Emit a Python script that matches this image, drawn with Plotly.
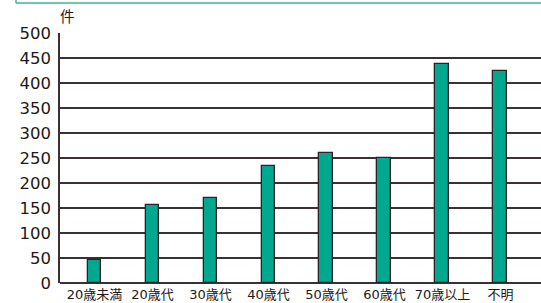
import plotly.graph_objects as go

categories = ["20歳未満", "20歳代", "30歳代", "40歳代", "50歳代", "60歳代", "70歳以上", "不明"]
values = [46, 157, 170, 234, 260, 250, 438, 424]
y_ticks = [0, 50, 100, 150, 200, 250, 300, 350, 400, 450, 500]

W, H = 541, 303
ml, mt, mb, mr = 60, 33, 20, 0
pw = W - ml - mr
ph = H - mt - mb

ink = "#231815"
grid = "#3a3232"
teal = "#00a88f"

fig = go.Figure()
fig.add_trace(go.Bar(
    x=list(range(len(categories))), y=values, width=0.24,
    marker=dict(color=teal, line=dict(color="#2b2424", width=1.3)),
    hoverinfo="skip",
))

def px_x(p):
    return (p - ml) / pw

def px_y(p):
    return (H - mb - p) / ph

fig.update_layout(
    width=W, height=H,
    margin=dict(l=ml, r=mr, t=mt, b=mb),
    paper_bgcolor="white", plot_bgcolor="white",
    showlegend=False, bargap=0,
    font=dict(family="DejaVu Sans, Noto Sans CJK JP", color=ink),
    xaxis=dict(
        range=[-0.595, 7.7],
        tickmode="array", tickvals=list(range(len(categories))), ticktext=categories,
        showgrid=False, zeroline=False, showline=False, ticks="",
        ticklabelstandoff=2,
        tickfont=dict(size=13, family="DejaVu Sans, Noto Sans CJK JP", color=ink),
        fixedrange=True,
    ),
    yaxis=dict(
        range=[0, 500],
        tickmode="array", tickvals=y_ticks,
        showgrid=True, gridcolor=grid, gridwidth=1.5,
        zeroline=True, zerolinecolor=grid, zerolinewidth=1.5,
        showline=True, linecolor=grid, linewidth=1.5,
        ticks="", ticklabelstandoff=4,
        tickfont=dict(size=16.5, family="DejaVu Sans", color=ink),
        fixedrange=True,
    ),
    shapes=[
        dict(type="line", xref="paper", yref="paper",
             x0=px_x(16), x1=px_x(W + 5), y0=px_y(3), y1=px_y(3),
             line=dict(color="#3cb4a0", width=1.5)),
        dict(type="line", xref="paper", yref="paper",
             x0=px_x(16), x1=px_x(16), y0=px_y(-5), y1=px_y(3),
             line=dict(color="#3cb4a0", width=1.5)),
    ],
    annotations=[
        dict(text="件", xref="paper", yref="paper", x=px_x(67), y=px_y(16),
             showarrow=False, xanchor="center", yanchor="middle",
             font=dict(size=14.5, family="Noto Sans CJK JP", color=ink)),
    ],
)

fig.write_html(
    "out.html",
    config={"displayModeBar": False},
    post_script="document.body.style.margin='0';document.body.style.overflow='hidden';",
)
